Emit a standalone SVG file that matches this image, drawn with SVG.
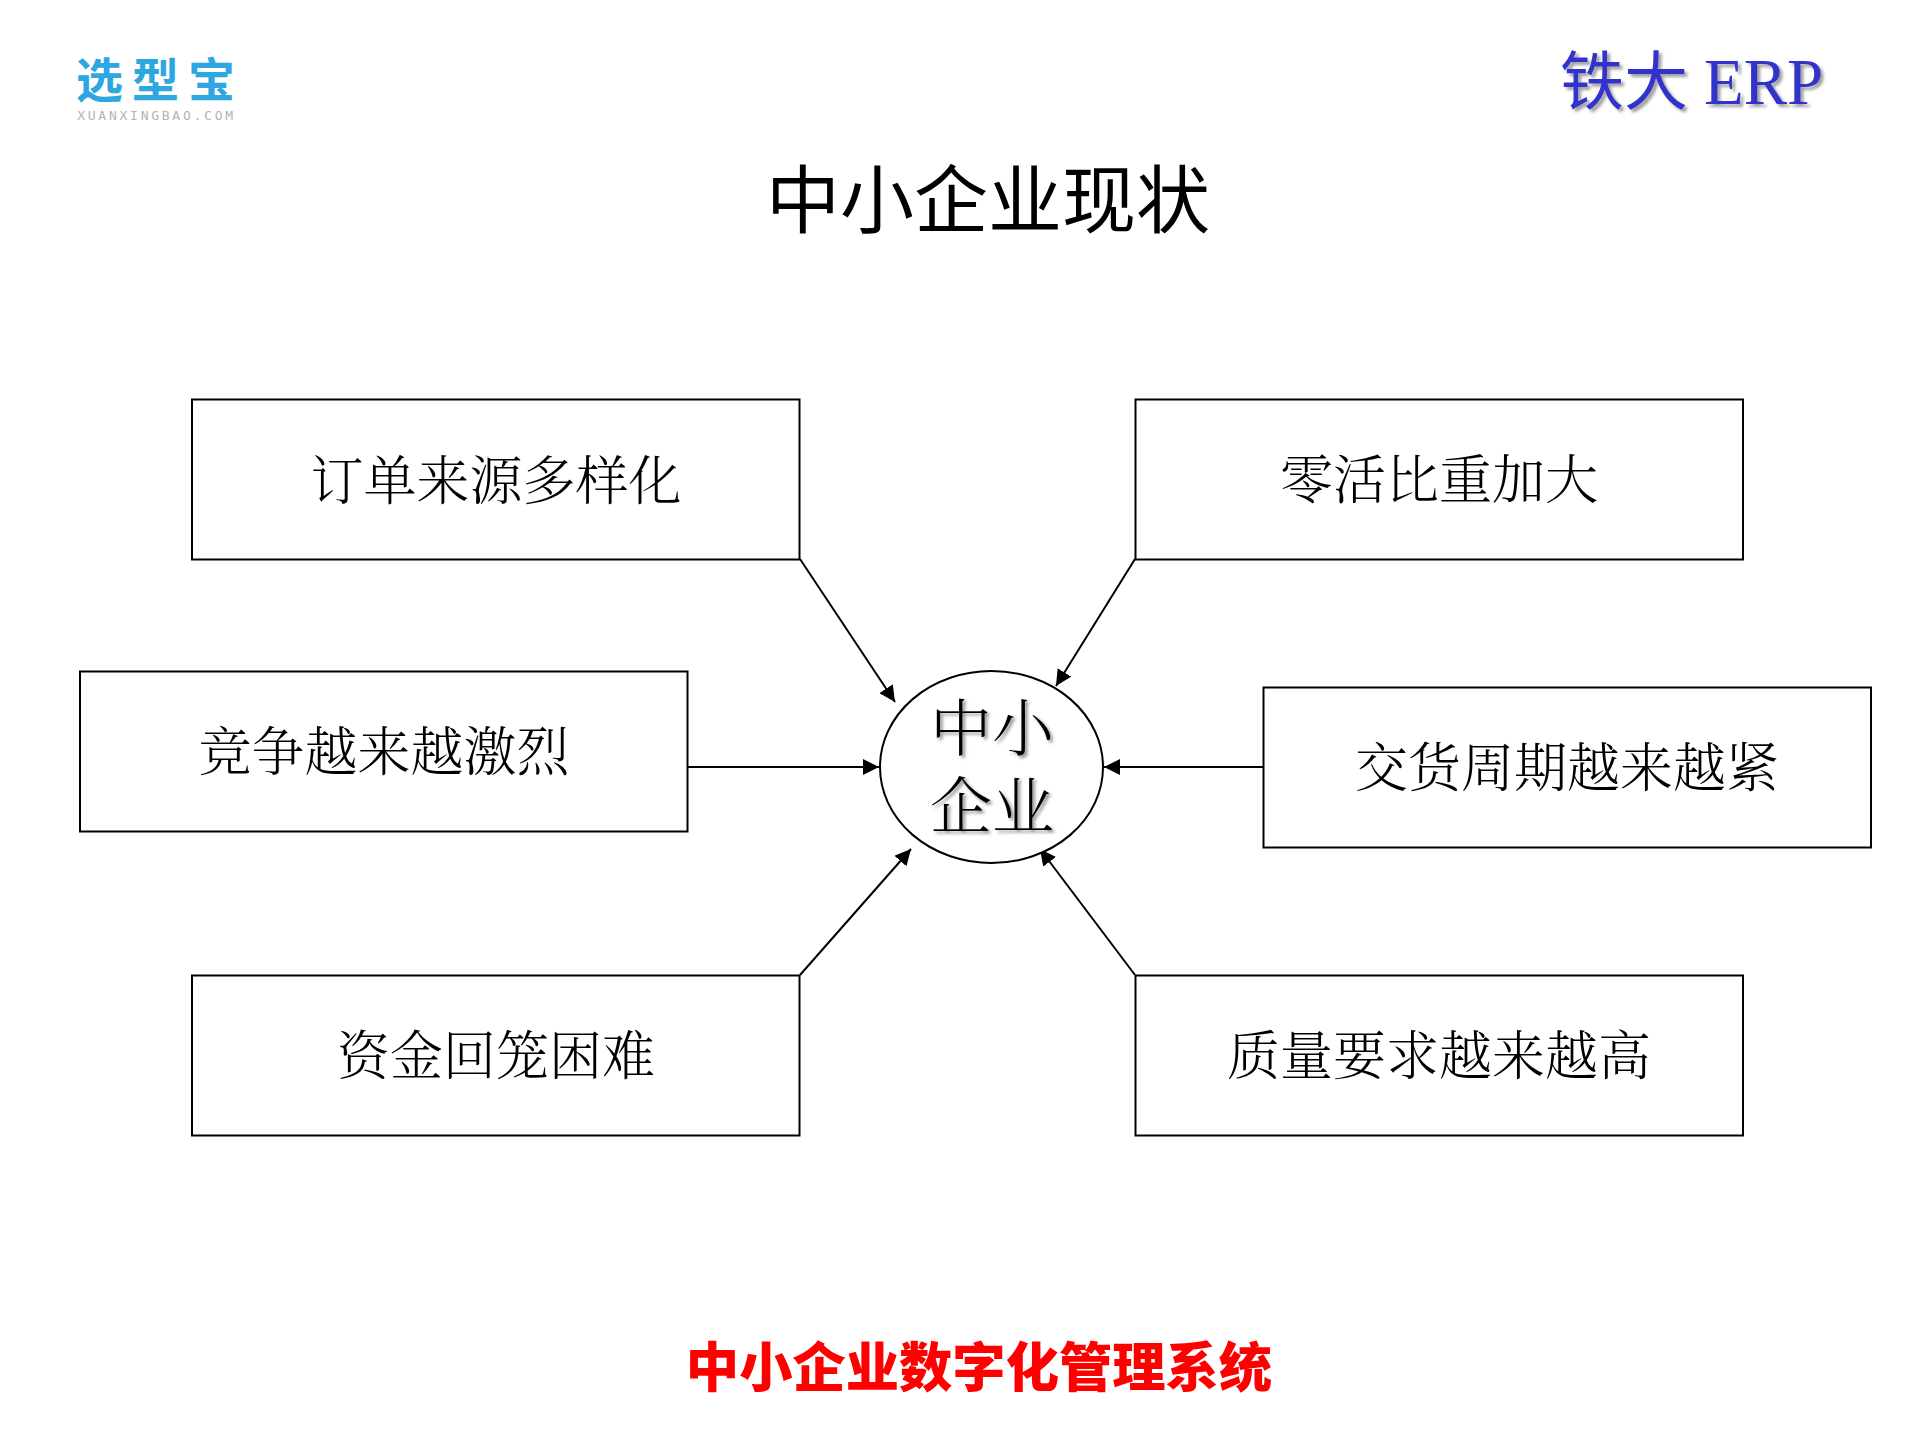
<svg xmlns="http://www.w3.org/2000/svg" width="1919" height="1439" viewBox="0 0 1919 1439">
<style>
text{font-family:"Noto Serif CJK SC","Noto Sans CJK SC",serif;text-anchor:middle;fill:#000}
.box{fill:#fff;stroke:#000;stroke-width:2}
.lbl{font-size:53px;font-weight:300}
.sans{font-family:"Noto Sans CJK SC",sans-serif}
.conn{stroke:#000;stroke-width:2;fill:none;marker-end:url(#arr)}
.b{fill:#3333cc;text-anchor:start;font-size:64px;filter:url(#ds)}
.c{font-size:62px;font-weight:300;filter:url(#ds2)}
</style>
<defs>
<marker id="arr" viewBox="0 0 16 16" refX="16" refY="8" markerWidth="16" markerHeight="16" markerUnits="userSpaceOnUse" orient="auto"><path d="M0 0L16 8L0 16Z" fill="#000"/></marker>
<filter id="ds" x="-10%" y="-10%" width="125%" height="130%"><feDropShadow dx="3" dy="3" stdDeviation="1.5" flood-color="#888" flood-opacity=".8"/></filter>
<filter id="ds2" x="-10%" y="-10%" width="125%" height="130%"><feDropShadow dx="2.5" dy="2.5" stdDeviation="1.5" flood-color="#777" flood-opacity=".8"/></filter>
</defs>
<rect width="1919" height="1439" fill="#fff"/>
<g id="logo">
<text x="160" y="97" class="sans" style="font-weight:700;font-size:47px;letter-spacing:9px;fill:#2ea7e0">选型宝</text>
<text x="156.5" y="120" style="font-family:'DejaVu Sans Mono',monospace;font-size:13px;letter-spacing:2.75px;fill:#b3b3b3">XUANXINGBAO.COM</text>
</g>
<g id="brand">
<text x="1560" y="104" class="b sans" style="text-anchor:start;fill:#3333cc">铁大</text>
<text x="1704" y="104" class="b" style="font-family:'Liberation Serif',serif;font-size:65px">ERP</text>
</g>
<text id="title" class="sans" x="988" y="227" font-size="74">中小企业现状</text>
<g id="connectors">
<line class="conn" x1="800" y1="559" x2="895" y2="702"/>
<line class="conn" x1="1135" y1="559" x2="1056" y2="686"/>
<line class="conn" x1="688" y1="767" x2="879" y2="767"/>
<line class="conn" x1="1263" y1="767" x2="1104" y2="767"/>
<line class="conn" x1="800" y1="975" x2="911" y2="849"/>
<line class="conn" x1="1135" y1="975" x2="1040" y2="849"/>
</g>
<g id="n1"><rect class="box" x="192" y="399.5" width="607.5" height="160"/><text class="lbl" x="496" y="499.5">订单来源多样化</text></g>
<g id="n2"><rect class="box" x="1135.5" y="399.5" width="607.5" height="160"/><text class="lbl" x="1439" y="499">零活比重加大</text></g>
<g id="n3"><rect class="box" x="80" y="671.5" width="607.5" height="160"/><text class="lbl" x="384" y="770.5">竞争越来越激烈</text></g>
<g id="n4"><rect class="box" x="1263.5" y="687.5" width="607.5" height="160"/><text class="lbl" x="1567" y="787">交货周期越来越紧</text></g>
<g id="n5"><rect class="box" x="192" y="975.5" width="607.5" height="160"/><text class="lbl" x="496" y="1075">资金回笼困难</text></g>
<g id="n6"><rect class="box" x="1135.5" y="975.5" width="607.5" height="160"/><text class="lbl" x="1439" y="1075">质量要求越来越高</text></g>
<g id="center">
<ellipse class="box" cx="991.5" cy="767" rx="111.5" ry="96"/>
<text class="c" x="992" y="751">中小</text>
<text class="c" x="992" y="829">企业</text>
</g>
<text id="footer" class="sans" x="979" y="1387" font-size="53.3" font-weight="900" style="fill:#f00">中小企业数字化管理系统</text>
</svg>
